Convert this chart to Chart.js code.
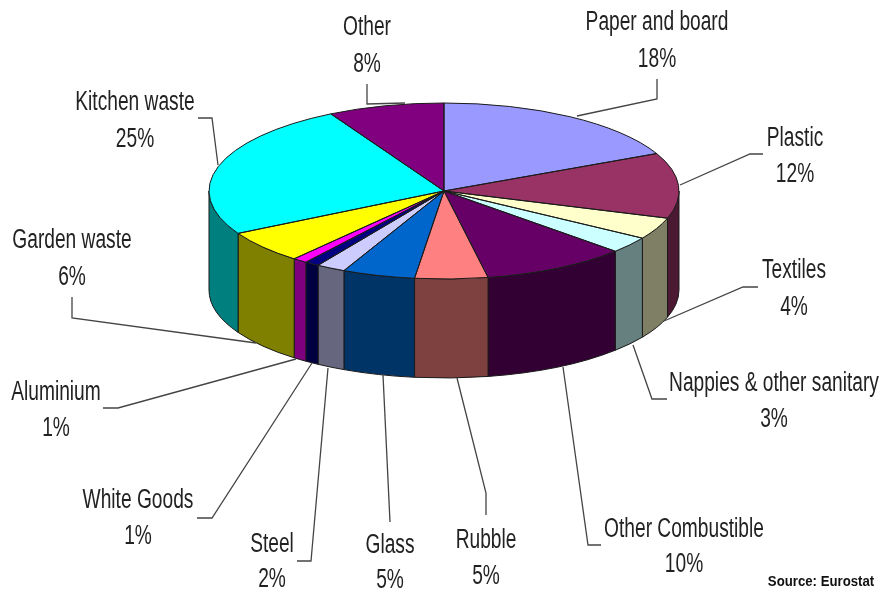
<!DOCTYPE html>
<html>
<head>
<meta charset="utf-8">
<title>Municipal waste composition</title>
<script src="https://cdn.jsdelivr.net/npm/chart.js@4"></script>
<style>
    html, body { margin: 0; padding: 0; background: #fff; }
    canvas { display: block; }
</style>
</head>
<body>
<canvas id="wasteChart" width="882" height="591"></canvas>
<script>
const categories = ['Paper and board', 'Plastic', 'Textiles', 'Nappies & other sanitary', 'Other Combustible',
    'Rubble', 'Glass', 'Steel', 'White Goods', 'Aluminium', 'Garden waste', 'Kitchen waste', 'Other'];
const shares = [18, 12, 4, 3, 10, 5, 5, 2, 1, 1, 6, 25, 8];
const sliceColors = ['#9999ff', '#993366', '#ffffcc', '#ccffff', '#660066',
    '#ff8080', '#0066cc', '#ccccff', '#000080', '#ff00ff', '#ffff00', '#00ffff', '#800080'];

// label centre x, name baseline, value baseline
const labelPos = [
    [657, 30, 67], [795, 146, 182], [794, 278, 315], [774, 391, 427], [684, 537, 572],
    [486, 548, 584], [390, 553, 588], [272, 552, 587], [138, 508, 544], [56, 400, 436],
    [72, 248, 285], [135, 110, 147], [367, 35, 72]
];

// leader lines, running from the label to the pie edge
const leaders = [
    [[657, 79], [657, 99], [577, 116]],
    [[763, 154], [750, 154], [680, 185]],
    [[758, 287], [743, 287], [664, 321]],
    [[667, 399], [652, 399], [633, 345]],
    [[601, 545], [588, 545], [563, 367]],
    [[486, 515], [486, 493], [457, 378]],
    [[390, 522], [383, 375]],
    [[297, 561], [311, 561], [328, 368]],
    [[197, 518], [212, 518], [312, 363]],
    [[103, 408], [118, 408], [296, 359]],
    [[72, 297], [72, 318], [256, 343]],
    [[198, 118], [212, 118], [218, 165]],
    [[367, 84], [367, 104], [405, 103]]
];

const pieCenterY = 191;
const pieRadiusY = 88;
const pieDepth = 99;

function halfShade(hex) {
    const n = parseInt(hex.slice(1), 16);
    const r = (n >> 16) >> 1, g = ((n >> 8) & 255) >> 1, b = (n & 255) >> 1;
    return `rgb(${r},${g},${b})`;
}

// tall, narrow lettering
function drawText(ctx, text, x, y, font, scaleX) {
    ctx.save();
    ctx.translate(x, y);
    ctx.scale(scaleX, 1);
    ctx.font = font;
    ctx.fillText(text, 0, 0);
    ctx.restore();
}

const tiltedPie = {
    id: 'tiltedPie',
    beforeDatasetsDraw(chart) {
        const ctx = chart.ctx;
        const arcs = chart.getDatasetMeta(0).data;

        // side wall, only the front half of the rim can be seen
        ctx.save();
        ctx.strokeStyle = '#1a1a1a';
        ctx.lineWidth = 1;
        arcs.forEach((arc, i) => {
            const start = Math.max(arc.startAngle, 0);
            const end = Math.min(arc.endAngle, Math.PI);
            if (end <= start) return;
            ctx.beginPath();
            ctx.ellipse(arc.x, pieCenterY, arc.outerRadius, pieRadiusY, 0, start, end);
            ctx.ellipse(arc.x, pieCenterY + pieDepth, arc.outerRadius, pieRadiusY, 0, end, start, true);
            ctx.closePath();
            ctx.fillStyle = halfShade(sliceColors[i]);
            ctx.fill();
            ctx.stroke();
        });
        ctx.restore();

        // squash the round pie into the top face
        const cy = arcs[0].y;
        ctx.save();
        ctx.translate(0, pieCenterY);
        ctx.scale(1, pieRadiusY / arcs[0].outerRadius);
        ctx.translate(0, -cy);
    },
    afterDatasetsDraw(chart) {
        const ctx = chart.ctx;
        ctx.restore();

        ctx.save();
        ctx.strokeStyle = '#1a1a1a';
        ctx.lineWidth = 1;
        chart.getDatasetMeta(0).data.forEach(arc => {
            ctx.beginPath();
            ctx.moveTo(arc.x, pieCenterY);
            ctx.ellipse(arc.x, pieCenterY, arc.outerRadius, pieRadiusY, 0, arc.startAngle, arc.endAngle);
            ctx.closePath();
            ctx.stroke();
        });

        ctx.strokeStyle = '#444';
        ctx.lineWidth = 1.3;
        leaders.forEach(points => {
            ctx.beginPath();
            points.forEach((p, i) => i ? ctx.lineTo(p[0], p[1]) : ctx.moveTo(p[0], p[1]));
            ctx.stroke();
        });

        ctx.fillStyle = '#222';
        ctx.textAlign = 'center';
        ctx.textBaseline = 'alphabetic';
        categories.forEach((name, i) => {
            const [x, nameY, valueY] = labelPos[i];
            drawText(ctx, name, x, nameY, '27px "Liberation Sans"', 0.71);
            drawText(ctx, shares[i] + '%', x, valueY, '27px "Liberation Sans"', 0.71);
        });

        ctx.fillStyle = '#111';
        drawText(ctx, 'Source: Eurostat', 821, 586, 'bold 15px "Liberation Sans"', 0.88);
        ctx.restore();
    }
};

new Chart(document.getElementById('wasteChart'), {
    type: 'pie',
    data: {
        labels: categories,
        datasets: [{
            data: shares,
            backgroundColor: sliceColors,
            borderWidth: 0,
            hoverOffset: 0
        }]
    },
    options: {
        responsive: false,
        animation: false,
        events: [],
        layout: { padding: { left: 209, right: 203, top: 60, bottom: 61 } },
        plugins: {
            legend: { display: false },
            tooltip: { enabled: false }
        }
    },
    plugins: [tiltedPie]
});
</script>
</body>
</html>
